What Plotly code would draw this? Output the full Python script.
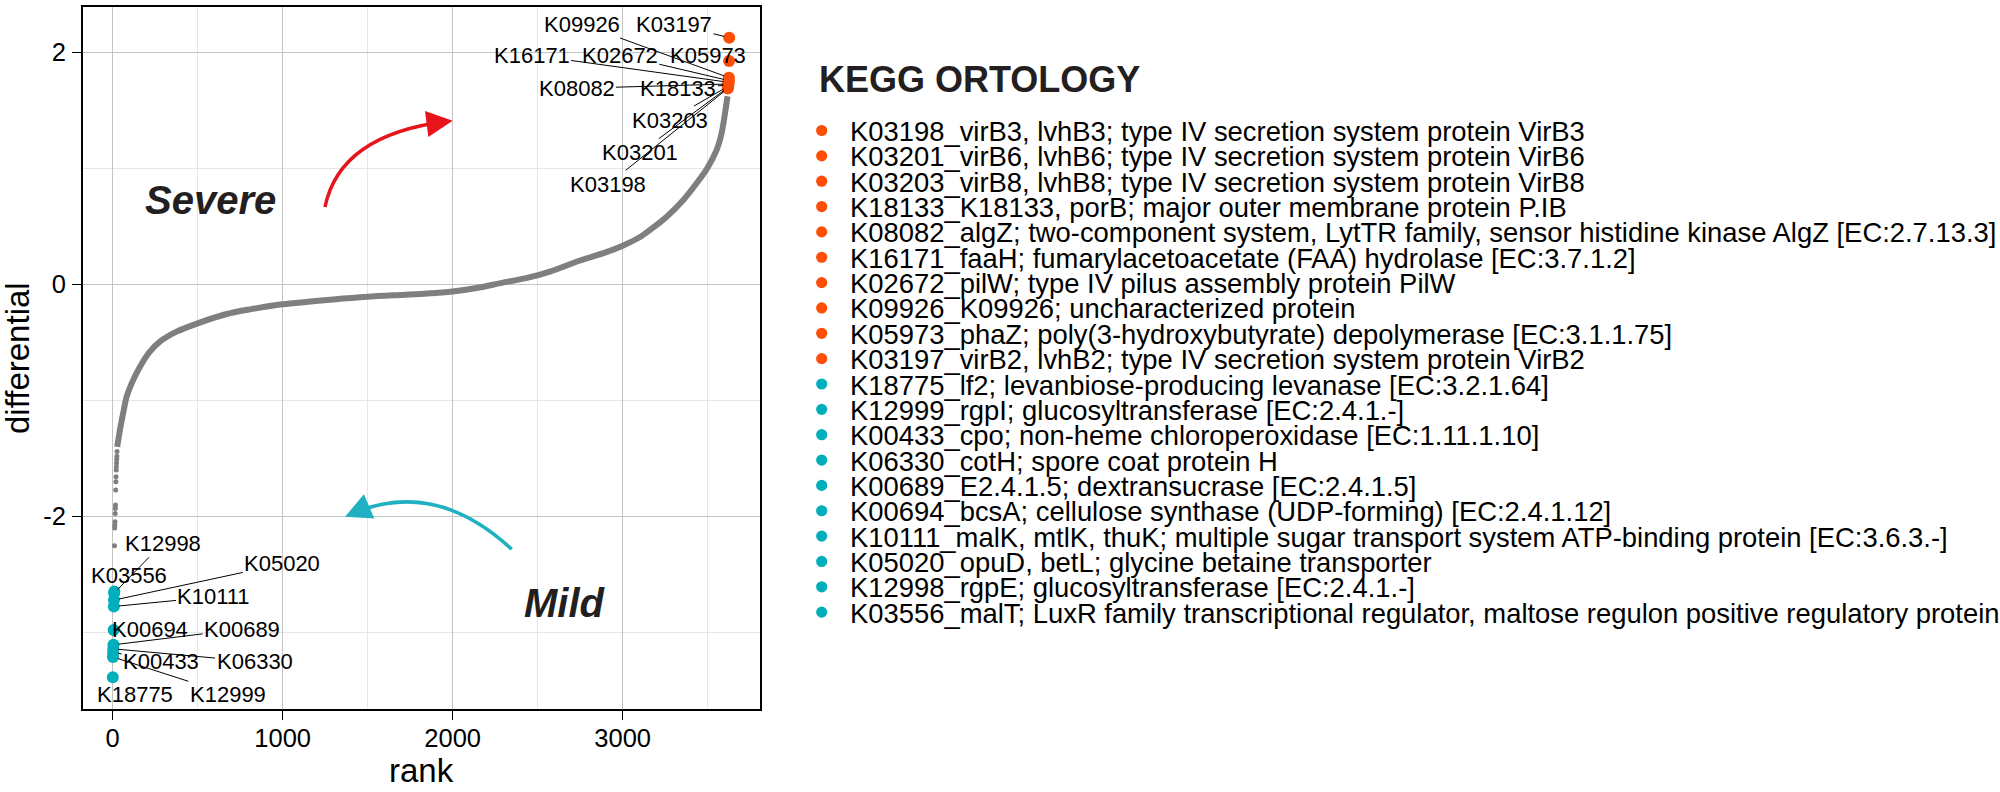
import plotly.graph_objects as go

# ---------------- data ----------------
# grey ranked curve (continuous part)
curve_rank = [27, 43, 62, 82, 112, 161, 219, 278, 376, 500, 671, 808, 1000, 1298, 1500,
              1690, 1850, 2000, 2150, 2281, 2450, 2572, 2750, 2900, 3004, 3100, 3161,
              3259, 3357, 3435, 3498, 3553, 3582, 3605, 3617]
curve_val = [-1.40, -1.255, -1.11, -0.97, -0.853, -0.71, -0.58, -0.494, -0.408, -0.336,
             -0.256, -0.216, -0.172, -0.13, -0.107, -0.092, -0.08, -0.062, -0.03, 0.01,
             0.06, 0.11, 0.205, 0.275, 0.335, 0.405, 0.468, 0.582, 0.726, 0.87, 1.0,
             1.157, 1.30, 1.50, 1.62]

# sparse grey points of the lower tail
tail_rank = [11, 12, 13, 14, 15, 16, 17, 18, 19, 20, 21, 22, 23, 24, 25, 26]
tail_val = [-2.251, -2.10, -2.073, -2.045, -1.974, -1.93, -1.90, -1.772, -1.70, -1.657,
            -1.60, -1.571, -1.54, -1.51, -1.48, -1.44]

# highlighted KOs (Severe = top, Mild = bottom)
severe_ko = ["K03198", "K03201", "K03203", "K18133", "K08082", "K16171", "K02672",
             "K09926", "K05973", "K03197"]
severe_rank = [3618, 3619, 3620, 3621, 3622, 3623, 3624, 3625, 3626, 3627]
severe_val = [1.686, 1.695, 1.705, 1.715, 1.725, 1.74, 1.755, 1.78, 1.923, 2.124]
severe_desc = [
    "virB3, lvhB3; type IV secretion system protein VirB3",
    "virB6, lvhB6; type IV secretion system protein VirB6",
    "virB8, lvhB8; type IV secretion system protein VirB8",
    "K18133, porB; major outer membrane protein P.IB",
    "algZ; two-component system, LytTR family, sensor histidine kinase AlgZ [EC:2.7.13.3]",
    "faaH; fumarylacetoacetate (FAA) hydrolase [EC:3.7.1.2]",
    "pilW; type IV pilus assembly protein PilW",
    "K09926; uncharacterized protein",
    "phaZ; poly(3-hydroxybutyrate) depolymerase [EC:3.1.1.75]",
    "virB2, lvhB2; type IV secretion system protein VirB2",
]

mild_ko = ["K18775", "K12999", "K00433", "K06330", "K00689", "K00694", "K10111",
           "K05020", "K12998", "K03556"]
mild_rank = [1, 2, 3, 4, 5, 6, 7, 8, 9, 10]
mild_val = [-3.385, -3.21, -3.17, -3.14, -3.105, -2.978, -2.775, -2.72, -2.66, -2.645]
mild_desc = [
    "lf2; levanbiose-producing levanase [EC:3.2.1.64]",
    "rgpI; glucosyltransferase [EC:2.4.1.-]",
    "cpo; non-heme chloroperoxidase [EC:1.11.1.10]",
    "cotH; spore coat protein H",
    "E2.4.1.5; dextransucrase [EC:2.4.1.5]",
    "bcsA; cellulose synthase (UDP-forming) [EC:2.4.1.12]",
    "malK, mtlK, thuK; multiple sugar transport system ATP-binding protein [EC:3.6.3.-]",
    "opuD, betL; glycine betaine transporter",
    "rgpE; glucosyltransferase [EC:2.4.1.-]",
    "malT; LuxR family transcriptional regulator, maltose regulon positive regulatory protein",
]

x_ticks = [0, 1000, 2000, 3000]
x_ticktext = ["0", "1000", "2000", "3000"]
y_ticks = [-2, 0, 2]
y_ticktext = ["-2", "0", "2"]

# ---------------- layout / style ----------------
W, H = 2000, 792
PL, PR, PT, PB = 82.7, 760.0, 6.7, 709.0
XR = [-176, 3808]
YR = [-3.658, 2.391]
FONT = "Liberation Sans, Arial, sans-serif"
RED = "#FC4E07"
CYAN = "#00AFBB"
GREY = "#7f7f7f"
DARK = "#231f20"

# label text positions (data units) for the repelled labels
label_pos = {
    "K09926": (2759, 2.242), "K03197": (3302, 2.242), "K16171": (2465, 1.975),
    "K02672": (2984, 1.975), "K05973": (3504, 1.975), "K08082": (2729, 1.688),
    "K18133": (3328, 1.688), "K03203": (3278, 1.415), "K03201": (3102, 1.134),
    "K03198": (2915, 0.861),
    "K12998": (294, -2.231), "K03556": (98, -2.504), "K05020": (998, -2.409),
    "K10111": (596, -2.691), "K00694": (219, -2.969), "K00689": (762, -2.969),
    "K00433": (286, -3.25), "K06330": (835, -3.25), "K18775": (129, -3.529),
    "K12999": (678, -3.529),
}


def px2d(px, py):
    x = XR[0] + (px - PL) / (PR - PL) * (XR[1] - XR[0])
    y = YR[1] - (py - PT) / (PB - PT) * (YR[1] - YR[0])
    return x, y


fig = go.Figure()

fig.add_trace(go.Scatter(x=curve_rank, y=curve_val, mode="lines",
                         line=dict(color=GREY, width=6, shape="spline", smoothing=0.8),
                         hoverinfo="skip", showlegend=False))
fig.add_trace(go.Scatter(x=tail_rank, y=tail_val, mode="markers",
                         marker=dict(color=GREY, size=5), showlegend=False))
fig.add_trace(go.Scatter(x=severe_rank, y=severe_val, mode="markers",
                         marker=dict(color=RED, size=12), text=severe_ko,
                         showlegend=False))
fig.add_trace(go.Scatter(x=mild_rank, y=mild_val, mode="markers",
                         marker=dict(color=CYAN, size=12), text=mild_ko,
                         showlegend=False))

annotations = []
# repelled labels with leader lines
for kos, ranks, vals in ((severe_ko, severe_rank, severe_val),
                         (mild_ko, mild_rank, mild_val)):
    for ko, r, v in zip(kos, ranks, vals):
        lx, ly = label_pos[ko]
        annotations.append(dict(
            x=r, y=v, ax=lx, ay=ly, axref="x", ayref="y", xref="x", yref="y",
            text=ko, showarrow=True, arrowhead=0, arrowwidth=1, arrowcolor="black",
            standoff=5, font=dict(family=FONT, size=22, color="black")))

# Severe / Mild texts
sx, sy = px2d(210, 200)
mx, my = px2d(564.5, 603)
annotations.append(dict(x=sx, y=sy, xref="x", yref="y", text="<b><i>Severe</i></b>",
                        showarrow=False, font=dict(family=FONT, size=40, color=DARK)))
annotations.append(dict(x=mx, y=my, xref="x", yref="y", text="<b><i>Mild</i></b>",
                        showarrow=False, font=dict(family=FONT, size=40, color=DARK)))

# curved arrows
shapes = []
arrows = [
    # start, control, tip, colour
    ((325, 207), (340, 135), (452.7, 120.7), "#E8141C"),
    ((511.7, 549.3), (435, 478), (345, 516.7), "#1FB1C1"),
]
for (s, c, t, col) in arrows:
    dx, dy = t[0] - c[0], t[1] - c[1]
    n = (dx * dx + dy * dy) ** 0.5
    ux, uy = dx / n, dy / n
    e = (t[0] - 7 * ux, t[1] - 7 * uy)
    p0, p1, p2 = px2d(*s), px2d(*c), px2d(*e)
    shapes.append(dict(type="path", xref="x", yref="y", layer="above",
                       path=f"M {p0[0]},{p0[1]} Q {p1[0]},{p1[1]} {p2[0]},{p2[1]}",
                       line=dict(color=col, width=3.5)))
    tx, ty = px2d(*t)
    L = 18
    annotations.append(dict(x=tx, y=ty, xref="x", yref="y", ax=-ux * L, ay=-uy * L,
                            text="", showarrow=True, arrowhead=2, arrowsize=1.5,
                            arrowwidth=3.5, arrowcolor=col, standoff=0))

# axis titles
annotations.append(dict(x=17 / W, y=1 - 358 / H, xref="paper", yref="paper",
                        xanchor="center", yanchor="middle",
                        text="differential", textangle=-90, showarrow=False,
                        font=dict(family=FONT, size=33, color="black")))
annotations.append(dict(x=((PL + PR) / 2) / W, y=1 - 770 / H, xref="paper", yref="paper",
                        xanchor="center", yanchor="middle",
                        text="rank", showarrow=False,
                        font=dict(family=FONT, size=33, color="black")))

# custom legend
annotations.append(dict(x=816.7 / W, y=1 - 80 / H, xref="paper", yref="paper",
                        xanchor="left", yanchor="middle", text="<b>KEGG ORTOLOGY</b>",
                        showarrow=False, font=dict(family=FONT, size=36, color=DARK)))
legend_ko = severe_ko + mild_ko
legend_desc = severe_desc + mild_desc
legend_col = [RED] * len(severe_ko) + [CYAN] * len(mild_ko)
for i, (ko, desc, col) in enumerate(zip(legend_ko, legend_desc, legend_col)):
    yc = 130.5 + i * 25.35
    annotations.append(dict(x=848.3 / W, y=1 - (yc + 1) / H, xref="paper", yref="paper",
                            xanchor="left", yanchor="middle", text=f"{ko}_{desc}",
                            showarrow=False,
                            font=dict(family=FONT, size=27.4, color="black")))
    r = 5.6
    shapes.append(dict(type="circle", xref="paper", yref="paper",
                       x0=(821.7 - r) / W, x1=(821.7 + r) / W,
                       y0=1 - (yc + r) / H, y1=1 - (yc - r) / H,
                       fillcolor=col, line=dict(width=0)))

axis_common = dict(
    showline=True, mirror=True, linecolor="black", linewidth=1.5,
    ticks="outside", ticklen=9, tickwidth=1.2, tickcolor="black",
    showgrid=True, gridcolor="#c4c4c4", gridwidth=1, zeroline=False,
    tickfont=dict(family=FONT, size=25.5, color="black"),
)

fig.update_layout(
    width=W, height=H,
    margin=dict(l=0, r=0, t=0, b=0),
    paper_bgcolor="white", plot_bgcolor="white",
    xaxis=dict(domain=[PL / W, PR / W], range=XR, tickvals=x_ticks, ticktext=x_ticktext,
               minor=dict(dtick=500, tick0=0, showgrid=True, gridcolor="#e6e6e6",
                          gridwidth=1),
               ticklabelstandoff=-3,
               automargin=False, **axis_common),
    yaxis=dict(domain=[1 - PB / H, 1 - PT / H], range=YR, tickvals=y_ticks,
               ticktext=y_ticktext,
               minor=dict(dtick=1, tick0=0, showgrid=True, gridcolor="#e6e6e6",
                          gridwidth=1),
               ticklabelstandoff=1,
               automargin=False, **axis_common),
    annotations=annotations,
    shapes=shapes,
    showlegend=False,
)

# remove the default 8px page margin so the figure sits at the window origin
fig.write_html("out.html",
               config={"displayModeBar": False},
               post_script="document.body.style.margin='0px';"
                           "document.body.style.overflow='hidden';")
